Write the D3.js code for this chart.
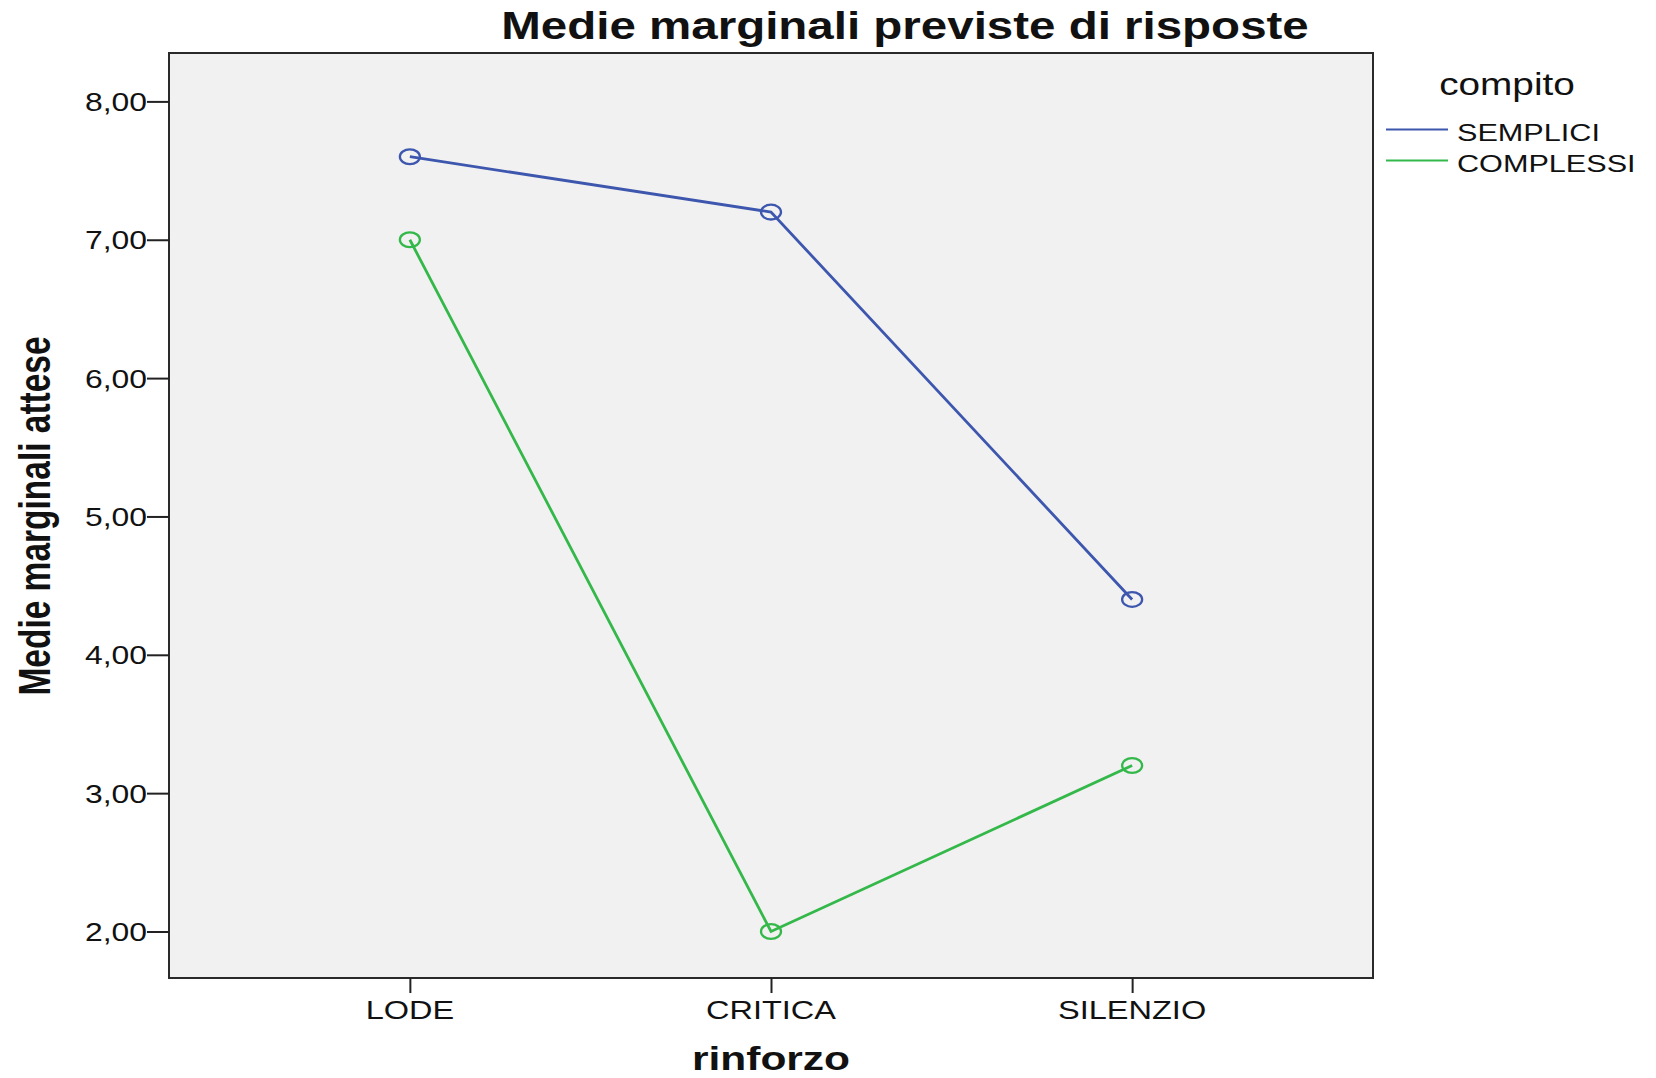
<!DOCTYPE html>
<html>
<head>
<meta charset="utf-8">
<script src="https://cdn.jsdelivr.net/npm/d3@7"></script>
<style>
  html, body { margin: 0; padding: 0; background: #fff; }
  svg { display: block; }
  text { font-family: "Liberation Sans", Arial, Helvetica, sans-serif; fill: #111; }
</style>
</head>
<body>
<svg id="chart" width="1656" height="1078"></svg>
<script>
// Estimated marginal means of "risposte" by rinforzo and compito
const categories = ["LODE", "CRITICA", "SILENZIO"];
const seriesNames = ["SEMPLICI", "COMPLESSI"];
const semplici = [7.6, 7.2, 4.4];
const complessi = [7.0, 2.0, 3.2];
const yTicks = [2, 3, 4, 5, 6, 7, 8];
const seriesColors = ["#3d56ae", "#34b84a"];

const svg = d3.select("#chart");
const SX = 1.25; // horizontal text stretch

const frame = { left: 169, right: 1373, top: 53, bottom: 978 };

const x = d3.scalePoint()
  .domain(categories)
  .range([frame.left, frame.right])
  .padding(0.667);

const y = d3.scaleLinear()
  .domain([2, 8])
  .range([931.5, 101.4]);

function stretchedText(parent, tx, ty, str, opts) {
  const sx = opts.sx || SX;
  const g = parent.append("g")
    .attr("transform", `translate(${tx},${ty}) scale(${sx},1)` + (opts.rotate ? ` rotate(${opts.rotate})` : ""));
  g.append("text")
    .attr("text-anchor", opts.anchor || "start")
    .attr("font-size", opts.size)
    .attr("font-weight", opts.weight || "normal")
    .text(str);
  return g;
}

// plot background
svg.append("rect")
  .attr("x", frame.left).attr("y", frame.top)
  .attr("width", frame.right - frame.left)
  .attr("height", frame.bottom - frame.top)
  .attr("fill", "#f1f1f1")
  .attr("stroke", "#2a2a2a")
  .attr("stroke-width", 2);

// y axis
const yAxis = d3.axisLeft(y).tickValues(yTicks).tickSize(22).tickFormat(() => "");
const yG = svg.append("g").attr("transform", `translate(${frame.left},0)`).call(yAxis);
yG.select(".domain").remove();
yG.selectAll(".tick line").attr("stroke", "#222").attr("stroke-width", 2);
yTicks.forEach(v => {
  stretchedText(svg, frame.left - 22, y(v) + 9.5,
    d3.format(".2f")(v).replace(".", ","),
    { anchor: "end", size: 25.5 });
});

// x axis
const xAxis = d3.axisBottom(x).tickSize(15).tickFormat(() => "");
const xG = svg.append("g").attr("transform", `translate(0,${frame.bottom})`).call(xAxis);
xG.select(".domain").remove();
xG.selectAll(".tick line").attr("stroke", "#222").attr("stroke-width", 2);
categories.forEach(c => {
  stretchedText(svg, x(c), 1019, c, { anchor: "middle", size: 26 });
});

// series lines and markers
const line = d3.line()
  .x((d, i) => x(categories[i]))
  .y(d => y(d));

[semplici, complessi].forEach((vals, si) => {
  svg.append("path")
    .datum(vals)
    .attr("d", line)
    .attr("fill", "none")
    .attr("stroke", seriesColors[si])
    .attr("stroke-width", 2.8);
  svg.selectAll(null)
    .data(vals)
    .enter().append("ellipse")
    .attr("cx", (d, i) => x(categories[i]))
    .attr("cy", d => y(d))
    .attr("rx", 10)
    .attr("ry", 7.4)
    .attr("fill", "none")
    .attr("stroke", seriesColors[si])
    .attr("stroke-width", 2.3);
});

// titles
stretchedText(svg, 905, 39, "Medie marginali previste di risposte",
  { anchor: "middle", size: 38, weight: "bold" });
stretchedText(svg, 771, 1070, "rinforzo",
  { anchor: "middle", size: 34, weight: "bold" });
stretchedText(svg, 50, 516, "Medie marginali attese",
  { anchor: "middle", size: 33.5, weight: "bold", rotate: -90, sx: 1.35 });

// legend
stretchedText(svg, 1507, 95, "compito", { anchor: "middle", size: 31 });
seriesNames.forEach((name, i) => {
  const ly = 129.5 + i * 31;
  svg.append("line")
    .attr("x1", 1386).attr("x2", 1448)
    .attr("y1", ly).attr("y2", ly)
    .attr("stroke", seriesColors[i])
    .attr("stroke-width", 2);
  stretchedText(svg, 1457, ly + 11, name, { anchor: "start", size: 24.5 });
});
</script>
</body>
</html>
